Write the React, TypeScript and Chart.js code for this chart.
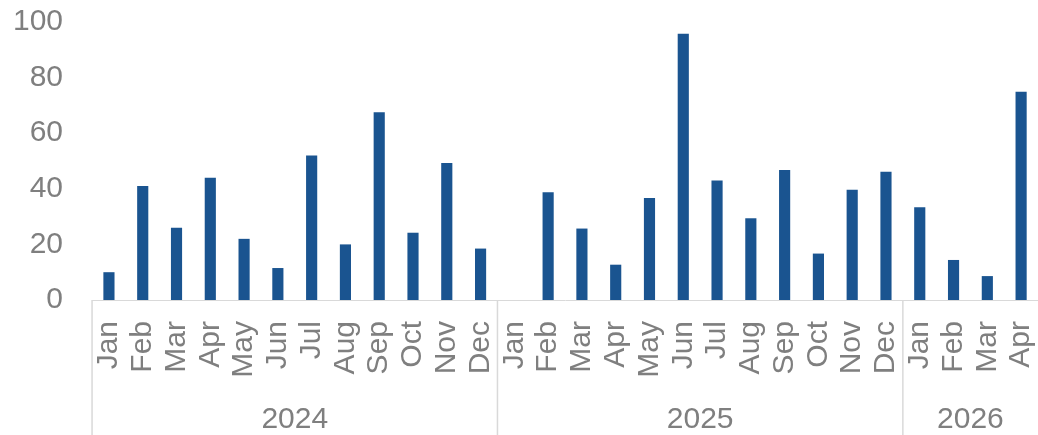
import React, { useEffect, useRef } from "react";
import { Chart, registerables } from "chart.js";

Chart.register(...registerables);

const monthNames = ["Jan", "Feb", "Mar", "Apr", "May", "Jun", "Jul", "Aug", "Sep", "Oct", "Nov", "Dec"];
const years = ["2024", "2025", "2026"];
const yearSpans = [12, 12, 4];

const values2024 = [10, 41, 26, 44, 22, 11.5, 52, 20, 67.5, 24.2, 49.3, 18.5];
const values2025 = [0, 38.8, 25.7, 12.7, 36.7, 95.8, 43, 29.4, 46.8, 16.7, 39.7, 46.1];
const values2026 = [33.4, 14.4, 8.6, 74.9];

const yTicks = [0, 20, 40, 60, 80, 100];

const FONT = "'Liberation Sans', Arial, sans-serif";
const TEXT = "#7f7f7f";
const LINE = "#d9d9d9";
const BAR = "#1a5490";

const labels: string[] = [];
yearSpans.forEach((n) => {
  for (let i = 0; i < n; i++) labels.push(monthNames[i]);
});
const values = [...values2024, ...values2025, ...values2026];

const yearPlugin = {
  id: "yearGroups",
  afterDraw(chart: any) {
    const { ctx, chartArea } = chart;
    const xs = chart.scales.x;
    const half = (xs.getPixelForValue(1) - xs.getPixelForValue(0)) / 2;
    ctx.save();
    ctx.strokeStyle = LINE;
    ctx.lineWidth = 1.5;
    ctx.fillStyle = TEXT;
    ctx.font = `30px ${FONT}`;
    ctx.textAlign = "center";
    ctx.textBaseline = "middle";
    let start = 0;
    years.forEach((yr, gi) => {
      const end = start + yearSpans[gi] - 1;
      const left = xs.getPixelForValue(start) - half;
      const right = xs.getPixelForValue(end) + half;
      ctx.beginPath();
      ctx.moveTo(left, chartArea.bottom);
      ctx.lineTo(left, chart.height);
      ctx.stroke();
      ctx.fillText(yr, (left + right) / 2, xs.bottom + 42);
      start = end + 1;
    });
    ctx.restore();
  },
};

export default function App() {
  const ref = useRef<HTMLCanvasElement | null>(null);
  useEffect(() => {
    document.body.style.margin = "0";
    const canvas = ref.current!;
    const chart = new Chart(canvas, {
      type: "bar",
      data: {
        labels,
        datasets: [
          {
            data: values,
            backgroundColor: BAR,
            borderWidth: 0,
            barPercentage: 0.33,
            categoryPercentage: 1,
          },
        ],
      },
      options: {
        animation: false,
        responsive: false,
        maintainAspectRatio: false,
        layout: { padding: { left: 13, top: 22, right: 0, bottom: 57 } },
        plugins: { legend: { display: false }, tooltip: { enabled: false } },
        scales: {
          x: {
            grid: { display: false, drawTicks: true, tickLength: 38 },
            border: { display: true, color: LINE, width: 1 },
            afterFit: (s: any) => {
              s.height = 78;
              s.paddingLeft = 0;
              s.paddingRight = 0;
            },
            ticks: {
              autoSkip: false,
              maxRotation: 90,
              minRotation: 90,
              padding: -17,
              color: TEXT,
              font: { family: FONT, size: 30, lineHeight: 1 },
            },
          },
          y: {
            min: 0,
            max: 100,
            afterBuildTicks: (s: any) => {
              s.ticks = yTicks.map((v) => ({ value: v }));
            },
            grid: { display: false, drawTicks: true, tickLength: 29 },
            border: { display: false },
            ticks: {
              padding: 0,
              color: TEXT,
              font: { family: FONT, size: 30, lineHeight: 1 },
            },
          },
        },
      },
      plugins: [yearPlugin],
    });
    return () => chart.destroy();
  }, []);
  return (
    <div style={{ width: 1038, height: 435 }}>
      <canvas ref={ref} width={1038} height={435} style={{ display: "block" }} />
    </div>
  );
}
